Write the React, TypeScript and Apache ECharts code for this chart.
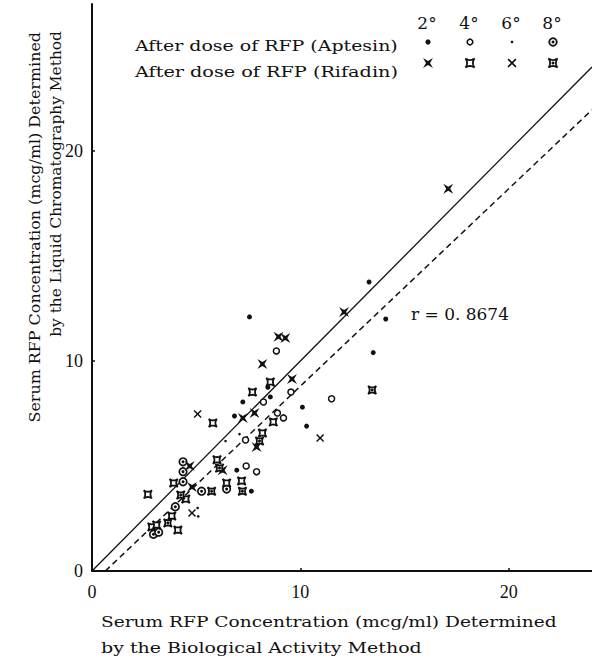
import React, { useEffect, useRef } from "react";
import * as echarts from "echarts";

// Tick values shown on both axes
const tickValues = [0, 10, 20];

// Aptesin, sampled 2, 4, 6 and 8 hours after the dose: [biological activity, liquid chromatography]
const aptesin2h = [
  [13.3, 13.76], [14.1, 12.0], [13.5, 10.4], [10.1, 7.8], [10.3, 6.9], [7.56, 12.1],
  [8.44, 8.75], [7.24, 8.05], [8.56, 8.29], [6.84, 7.38], [6.95, 4.8], [7.65, 3.8],
];
const aptesin4h = [
  [8.85, 10.48], [9.55, 8.52], [11.5, 8.2], [8.23, 8.05], [8.9, 7.52], [9.19, 7.29],
  [7.37, 6.24], [7.4, 5.0], [7.9, 4.73],
];
const aptesin6h = [[6.41, 6.19], [7.08, 6.52], [5.07, 3.0], [5.1, 2.6]];
const aptesin8h = [
  [4.37, 5.2], [4.37, 4.73], [4.37, 4.25], [5.26, 3.8], [4.0, 3.06], [6.46, 3.9],
  [2.95, 1.75], [3.2, 1.85],
];

// Rifadin, same sampling times
const rifadin2h = [
  [17.1, 18.2], [12.1, 12.33], [8.95, 11.15], [9.28, 11.1], [8.18, 9.86], [9.6, 9.14],
  [7.24, 7.29], [7.8, 7.52], [7.9, 5.9], [6.27, 4.8], [4.69, 5.0], [4.8, 4.0],
];
const rifadin4h = [
  [7.7, 8.52], [8.56, 9.0], [5.8, 7.05], [8.7, 7.1], [8.18, 6.57], [6.0, 5.3],
  [6.46, 4.19], [7.18, 4.29], [2.68, 3.65], [3.92, 4.19], [4.5, 3.43], [3.83, 2.62],
  [2.87, 2.1], [3.1, 2.19], [4.12, 1.95],
];
const rifadin6h = [[5.07, 7.48], [10.95, 6.33], [4.8, 2.76]];
const rifadin8h = [
  [13.45, 8.62], [8.04, 6.19], [6.12, 4.9], [7.22, 3.8], [5.74, 3.8], [4.26, 3.62],
  [3.64, 2.29],
];

// Line of identity and the fitted regression line
const identityLine = [[0, 0], [24, 24]];
const regressionLine = [[0.64, 0], [24, 21.96]];
const correlationLabel = "r = 0. 8674";

const hourLabels = ["2°", "4°", "6°", "8°"];
const aptesinLabel = "After dose of RFP (Aptesin)";
const rifadinLabel = "After dose of RFP (Rifadin)";
const xTitle = ["Serum RFP Concentration (mcg/ml) Determined", "by the Biological Activity Method"];
const yTitle = ["Serum RFP Concentration (mcg/ml) Determined", "by the Liquid Chromatography Method"];

const INK = "#111";
const SERIF = "'DejaVu Serif', 'Liberation Serif', serif";

// Marker outlines in a 20x20 box
const starPts: number[][] = [[0, 0], [10, 6], [20, 0], [14, 10], [20, 20], [10, 14], [0, 20], [6, 10]];
const crossPts: number[][] = [
  [0, 2.6], [2.6, 0], [10, 7.4], [17.4, 0], [20, 2.6], [12.6, 10],
  [20, 17.4], [17.4, 20], [10, 12.6], [2.6, 20], [0, 17.4], [7.4, 10],
];
const concaveSquarePts: number[][] = (() => {
  const corners = [[0, 0], [20, 0], [20, 20], [0, 20]];
  const ctrl = [[10, 7], [13, 10], [10, 13], [7, 10]];
  const out: number[][] = [];
  for (let i = 0; i < 4; i++) {
    const a = corners[i];
    const b = corners[(i + 1) % 4];
    const c = ctrl[i];
    for (let k = 0; k < 8; k++) {
      const t = k / 8;
      const u = 1 - t;
      out.push([u * u * a[0] + 2 * u * t * c[0] + t * t * b[0], u * u * a[1] + 2 * u * t * c[1] + t * t * b[1]]);
    }
  }
  return out;
})();

const toPath = (pts: number[][]) =>
  "path://M" + pts.map((p) => `${p[0].toFixed(2)} ${p[1].toFixed(2)}`).join(" L") + " Z";

const placePts = (pts: number[][], cx: number, cy: number, size: number) =>
  pts.map((p) => [cx + ((p[0] - 10) * size) / 20, cy + ((p[1] - 10) * size) / 20]);

export default function App() {
  const ref = useRef<HTMLDivElement>(null);

  useEffect(() => {
    document.body.style.margin = "0";
    if (!ref.current) return;
    const chart = echarts.init(ref.current, undefined, { renderer: "svg" });

    const ctx = document.createElement("canvas").getContext("2d")!;
    const measure = (text: string, font: string) => {
      ctx.font = font;
      return ctx.measureText(text).width;
    };
    // Text stretched horizontally to a given run length
    const fitted = (
      text: string, x: number, y: number, width: number, size: number,
      align: "left" | "right" | "center", rotation = 0
    ) => {
      const font = `${size}px ${SERIF}`;
      return {
        type: "text", x, y, rotation, scaleX: width / measure(text, font),
        style: {
          text, font, fill: INK,
          align, textAlign: align, verticalAlign: "middle", textVerticalAlign: "middle",
        },
      };
    };

    const scatter = (data: number[][], symbol: string, size: number, fill: string, lw = 0, z = 3) => ({
      type: "scatter", data, symbol, symbolSize: size, silent: true, z,
      itemStyle: { color: fill, borderColor: INK, borderWidth: lw, opacity: 1 },
    });

    const legendX = [428, 470, 512, 553];
    const rowA = 42;
    const rowB = 63;
    const poly = (pts: number[][], cx: number, cy: number, size: number, fill: string, lw = 0) => ({
      type: "polygon",
      shape: { points: placePts(pts, cx, cy, size) },
      style: { fill, stroke: INK, lineWidth: lw },
    });
    const dot = (cx: number, cy: number, r: number, fill: string, lw = 0) => ({
      type: "circle", shape: { cx, cy, r }, style: { fill, stroke: INK, lineWidth: lw },
    });

    const graphics: any[] = [
      ...hourLabels.map((h, i) => ({
        type: "text", x: legendX[i] - 1, y: 23,
        style: { text: h, font: `17px ${SERIF}`, fill: INK, align: "center", textAlign: "center", verticalAlign: "middle", textVerticalAlign: "middle" },
      })),
      fitted(aptesinLabel, 135, 46, 263, 15, "left"),
      fitted(rifadinLabel, 135, 72, 263, 15, "left"),
      dot(legendX[0], rowA, 2.6, INK),
      dot(legendX[1], rowA, 2.8, "#fff", 1.6),
      dot(legendX[2], rowA, 1.3, INK),
      dot(legendX[3], rowA, 3.8, "#fff", 1.8),
      dot(legendX[3], rowA, 1.5, INK),
      poly(starPts, legendX[0], rowB, 10, INK),
      poly(concaveSquarePts, legendX[1], rowB, 9, "#fff", 1.8),
      poly(crossPts, legendX[2], rowB, 9, INK),
      poly(concaveSquarePts, legendX[3], rowB, 9, "#fff", 1.8),
      dot(legendX[3], rowB, 1.5, INK),
      fitted(correlationLabel, 411, 314, 98, 17, "left"),
      fitted(xTitle[0], 101, 622, 456, 15, "left"),
      fitted(xTitle[1], 101, 648, 321, 15, "left"),
      fitted(yTitle[0], 35, 32, 391, 14, "right", Math.PI / 2),
      fitted(yTitle[1], 56, 31, 306, 14, "right", Math.PI / 2),
    ];

    const tickLabel = (v: number) => (tickValues.includes(v) ? String(v) : "");
    const axisCommon = {
      type: "value",
      interval: 10,
      splitLine: { show: false },
      axisLine: { show: true, onZero: false, lineStyle: { color: INK, width: 2 } },
      axisTick: { show: true, inside: true, length: 3, lineStyle: { color: INK, width: 1.5 } },
      axisLabel: {
        formatter: tickLabel,
        color: INK,
        fontSize: 18,
        fontFamily: "'Liberation Serif', serif",
        showMaxLabel: false,
      },
    };

    chart.setOption({
      animation: false,
      backgroundColor: "#fff",
      grid: { left: 92, right: 0, top: 4, bottom: 90, containLabel: false },
      xAxis: { ...axisCommon, min: 0, max: 24, axisLabel: { ...axisCommon.axisLabel, margin: 12 } },
      yAxis: { ...axisCommon, min: 0, max: 27, axisLabel: { ...axisCommon.axisLabel, margin: 9 } },
      series: [
        {
          type: "line", data: identityLine, symbol: "none", silent: true, z: 1,
          lineStyle: { color: INK, width: 1.3, type: "solid" },
        },
        {
          type: "line", data: regressionLine, symbol: "none", silent: true, z: 1,
          lineStyle: { color: INK, width: 1.5, type: [6, 4] },
        },
        scatter(aptesin2h, "circle", 5, INK),
        scatter(aptesin4h, "circle", 6, "#fff", 1.5),
        scatter(aptesin6h, "circle", 2.6, INK),
        scatter(aptesin8h, "circle", 7.5, "#fff", 1.7),
        scatter(aptesin8h, "circle", 3, INK, 0, 4),
        scatter(rifadin2h, toPath(starPts), 10, INK),
        scatter(rifadin4h, toPath(concaveSquarePts), 8, "#fff", 1.8),
        scatter(rifadin6h, toPath(crossPts), 8, INK),
        scatter(rifadin8h, toPath(concaveSquarePts), 8, "#fff", 1.8),
        scatter(rifadin8h, "circle", 3, INK, 0, 4),
      ],
      graphic: graphics,
    });

    return () => chart.dispose();
  }, []);

  return <div ref={ref} style={{ width: 592, height: 661 }} />;
}
